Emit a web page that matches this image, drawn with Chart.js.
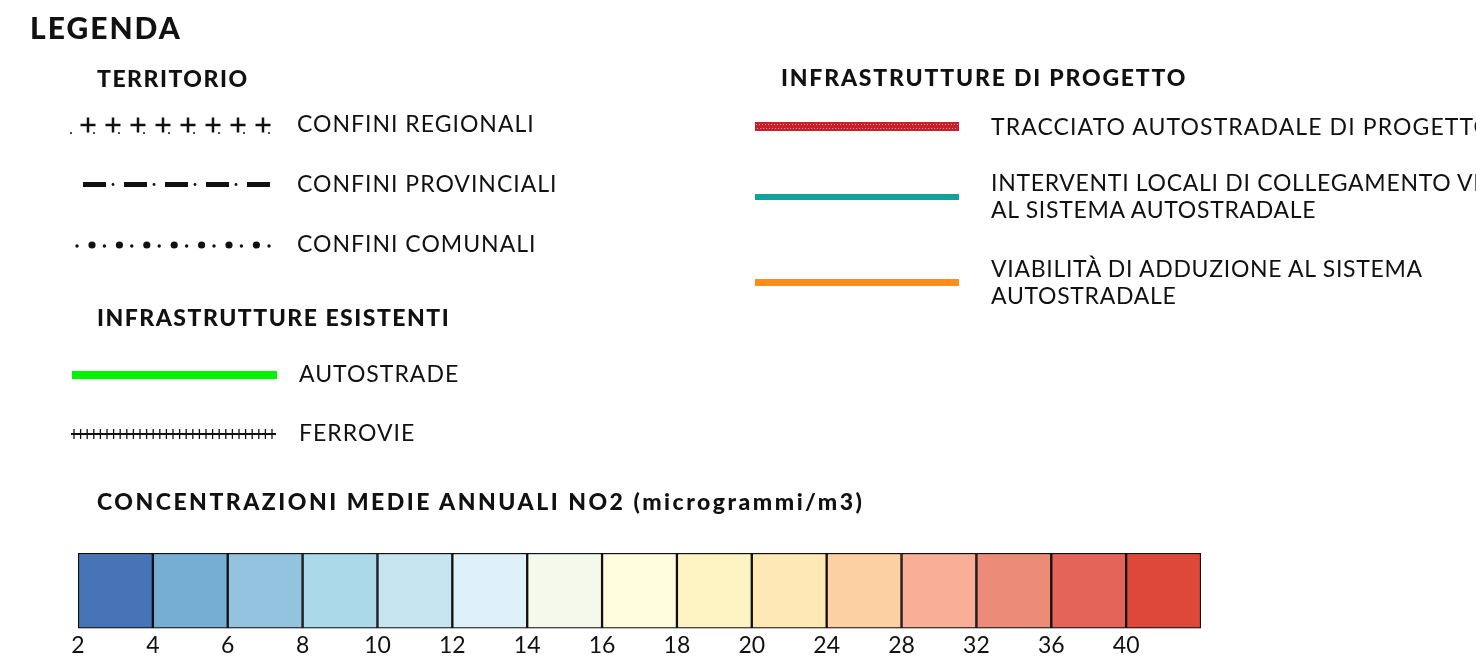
<!DOCTYPE html>
<html>
<head>
<meta charset="utf-8">
<script src="https://cdn.jsdelivr.net/npm/chart.js"></script>
<style>
body { margin:0; width:1476px; height:658px; overflow:hidden; background:#fff; font-family:Lato, "Open Sans", sans-serif; color:#111; }
#wrap { position:relative; width:1476px; height:658px; overflow:hidden; }
#scala { position:absolute; left:0; top:0; }
.t { position:absolute; white-space:nowrap; transform:translateY(-50%); line-height:1; }
.h { font-weight:900; font-size:23px; letter-spacing:1.5px; }
.i { font-size:23px; letter-spacing:1px; }
.r { font-size:23px; letter-spacing:0.7px; }
svg { position:absolute; left:0; top:0; }
</style>
</head>
<body>
<div id="wrap">
<canvas id="scala" width="1476" height="664"></canvas>
<svg width="1476" height="658" id="simboli"></svg>
<div class="t h" style="left:30px;top:27px;font-size:30px;letter-spacing:2px">LEGENDA</div>
<div class="t h" style="left:97px;top:78px">TERRITORIO</div>
<div class="t i" style="left:297px;top:123px">CONFINI REGIONALI</div>
<div class="t i" style="left:297px;top:183px">CONFINI PROVINCIALI</div>
<div class="t i" style="left:297px;top:243px">CONFINI COMUNALI</div>
<div class="t h" style="left:97px;top:317px">INFRASTRUTTURE ESISTENTI</div>
<div class="t i" style="left:299px;top:373px">AUTOSTRADE</div>
<div class="t i" style="left:299px;top:432px">FERROVIE</div>
<div class="t h" style="left:97px;top:501px;letter-spacing:2.5px">CONCENTRAZIONI MEDIE ANNUALI NO2 (microgrammi/m3)</div>
<div class="t h" style="left:781px;top:77px;letter-spacing:1.8px">INFRASTRUTTURE DI PROGETTO</div>
<div class="t r" style="left:991px;top:126px;letter-spacing:1.1px">TRACCIATO AUTOSTRADALE DI PROGETTO</div>
<div class="t r" style="left:991px;top:182px">INTERVENTI LOCALI DI COLLEGAMENTO VIARIO</div>
<div class="t r" style="left:991px;top:209px">AL SISTEMA AUTOSTRADALE</div>
<div class="t r" style="left:991px;top:268px">VIABILITÀ DI ADDUZIONE AL SISTEMA</div>
<div class="t r" style="left:991px;top:295px">AUTOSTRADALE</div>
</div>
<script>
// classi della scala NO2
var classi = ['2-4','4-6','6-8','8-10','10-12','12-14','14-16','16-18','18-20','20-24','24-28','28-32','32-36','36-40','>40'];
var colori = ['#4674b7','#76aed3','#93c3df','#acd9e9','#c6e5f0','#dff1f8','#f5f9eb','#fefcdc','#fdf3c3','#fee8b6','#fcd0a2','#f9ae97','#ec8c78','#e5645a','#dd4838'];
var etichette = ['2','4','6','8','10','12','14','16','18','20','24','28','32','36','40',''];
var larghezza = [1,1,1,1,1,1,1,1,1,1,1,1,1,1,1];

var datasets = [];
for (var i = 0; i < classi.length; i++) {
    datasets.push({
        label: classi[i],
        data: [larghezza[i]],
        backgroundColor: colori[i],
        borderColor: '#111',
        borderWidth: 1.5,
        borderSkipped: false,
        barPercentage: 1,
        categoryPercentage: 1
    });
}

var ctx = document.getElementById('scala').getContext('2d');
var chart = new Chart(ctx, {
    type: 'bar',
    data: { labels: ['NO2'], datasets: datasets },
    options: {
        indexAxis: 'y',
        responsive: false,
        animation: false,
        layout: { padding: { left: 78, right: 275, top: 553, bottom: 2 } },
        plugins: { legend: { display: false }, tooltip: { enabled: false } },
        scales: {
            y: { stacked: true, display: false },
            x: {
                stacked: true, min: 0, max: 15,
                grid: { display: false, drawTicks: false },
                border: { display: false },
                ticks: {
                    stepSize: 1, autoSkip: false, maxRotation: 0, padding: 3,
                    color: '#111', font: { family: 'Lato', size: 23 },
                    callback: function(v) { return etichette[v]; }
                }
            }
        }
    }
});

// simboli della legenda
var ns = 'http://www.w3.org/2000/svg';
var svg = document.getElementById('simboli');
function el(tag, attrs) {
    var e = document.createElementNS(ns, tag);
    for (var k in attrs) e.setAttribute(k, attrs[k]);
    svg.appendChild(e);
    return e;
}
// confini regionali
el('circle', {cx: 71, cy: 133, r: 1, fill: '#111'});
for (var j = 0; j < 8; j++) {
    var x = 88 + j * 25;
    el('path', {d: 'M' + (x - 7.5) + ' 125 H' + (x + 7.5) + ' M' + x + ' 117.5 V132.5', stroke: '#111', 'stroke-width': 2.5});
    el('circle', {cx: x + 6, cy: 133, r: 1, fill: '#111'});
}
// confini provinciali
for (var j = 0; j < 5; j++) {
    var x = 83 + j * 41;
    el('rect', {x: x, y: 182, width: 23, height: 5, fill: '#111'});
    if (j < 4) el('circle', {cx: x + 30, cy: 184.5, r: 1.4, fill: '#111'});
}
// confini comunali
for (var j = 0; j < 7; j++) {
    var x = 77 + j * 27.4;
    el('circle', {cx: x, cy: 246, r: 1.7, fill: '#111'});
    el('circle', {cx: x + 15, cy: 245, r: 3.6, fill: '#111'});
}
el('circle', {cx: 269, cy: 246, r: 1.7, fill: '#111'});
// autostrade
el('rect', {x: 72, y: 371, width: 205, height: 8, fill: '#00f400'});
// ferrovie
el('line', {x1: 71, y1: 434, x2: 276, y2: 434, stroke: '#111', 'stroke-width': 1.8});
for (var x = 74; x <= 272; x += 6.6) {
    el('line', {x1: x, y1: 429, x2: x, y2: 439, stroke: '#111', 'stroke-width': 1.3});
}
// progetto
el('rect', {x: 755, y: 122, width: 204, height: 9, fill: '#c8202a'});
el('line', {x1: 756, y1: 124.5, x2: 958, y2: 124.5, stroke: '#f19a9a', 'stroke-width': 1, 'stroke-dasharray': '1 2'});
el('line', {x1: 757, y1: 128.5, x2: 958, y2: 128.5, stroke: '#f19a9a', 'stroke-width': 1, 'stroke-dasharray': '1 2'});
el('rect', {x: 755, y: 194, width: 204, height: 6, fill: '#15a19b'});
el('rect', {x: 755, y: 279, width: 204, height: 7, fill: '#ff8c1c'});
</script>
</body>
</html>
